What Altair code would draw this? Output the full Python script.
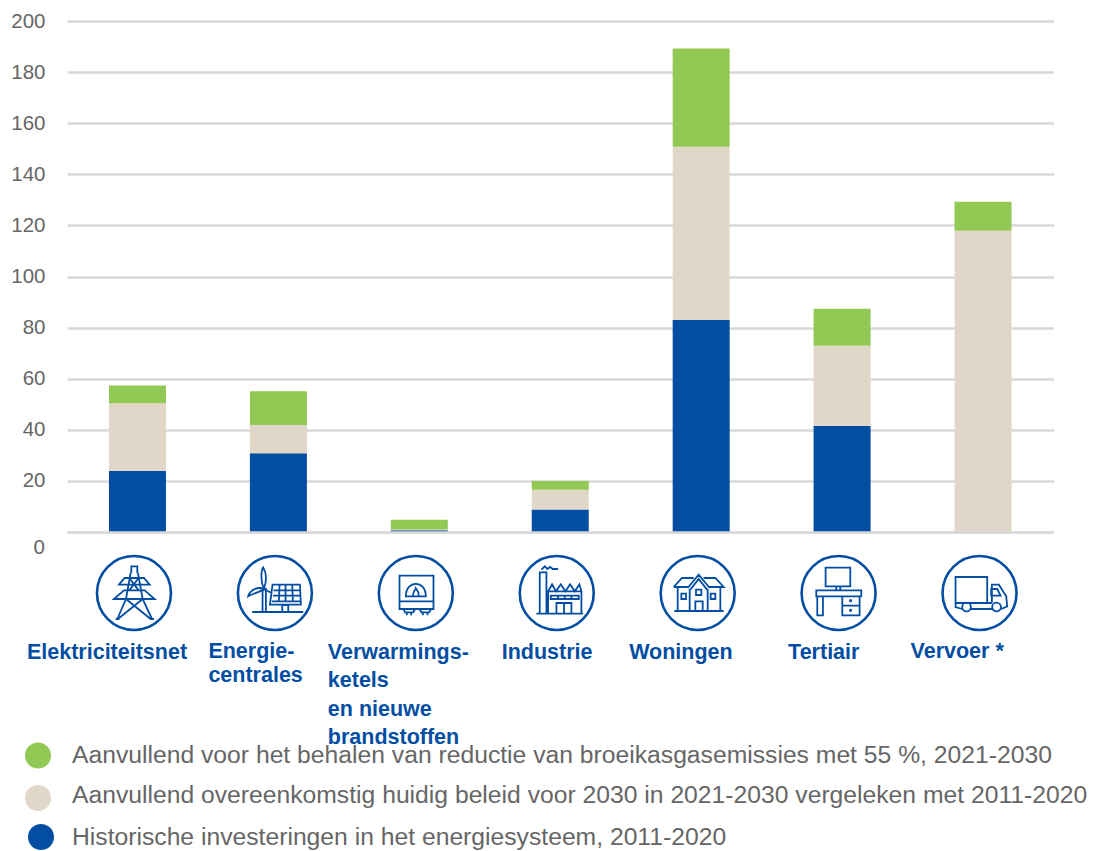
import altair as alt
import pandas as pd

# ---- data ----
categories = ["Elektriciteitsnet", "Energiecentrales", "Verwarmingsketels", "Industrie", "Woningen", "Tertiair", "Vervoer"]
historic = [23.9, 30.8, 0.7, 8.8, 83.0, 41.5, 0.0]
current_policy = [26.5, 11.1, 0.3, 7.7, 67.8, 31.4, 117.9]
extra_55 = [6.9, 13.2, 3.8, 3.5, 38.4, 14.5, 11.4]

series_names = [
    "Historische investeringen in het energiesysteem, 2011-2020",
    "Aanvullend overeenkomstig huidig beleid voor 2030 in 2021-2030 vergeleken met 2011-2020",
    "Aanvullend voor het behalen van reductie van broeikasgasemissies met 55 %, 2021-2030",
]
series_colors = ["#034EA2", "#E1D7C8", "#92C954"]
y_ticks = list(range(0, 201, 20))

label_lines = [
    ["Elektriciteitsnet"],
    ["Energie-", "centrales"],
    ["Verwarmings-", "ketels", "en nieuwe", "brandstoffen"],
    ["Industrie"],
    ["Woningen"],
    ["Tertiair"],
    ["Vervoer *"],
]
label_dx = [-110.5, -70, -91.5, -58.5, -72, -54, -72.5]
label_line_height = [24, 24, 28.6, 24, 24, 24, 24]
label_baseline_y = [653, 652, 652.5, 653, 653, 653, 652]

BLUE = "#034EA2"
GREY = "#666666"
GRID = "#D9D9D9"
FONT = "Liberation Sans"


# ---- icon outlines, in a local unit system relative to each icon's centre ----
def P(*pts, close=False):
    s = "M" + " L".join(f"{x/111:.4f},{y/111:.4f}" for x, y in pts)
    return s + (" Z" if close else "")


def R(x0, y0, x1, y1):
    return P((x0, y0), (x1, y0), (x1, y1), (x0, y1), close=True)


def C(cx, cy, r):
    k = 0.5523 * r
    f = lambda v: f"{v/111:.4f}"
    return (f"M{f(cx+r)},{f(cy)} C{f(cx+r)},{f(cy+k)} {f(cx+k)},{f(cy+r)} {f(cx)},{f(cy+r)} "
            f"C{f(cx-k)},{f(cy+r)} {f(cx-r)},{f(cy+k)} {f(cx-r)},{f(cy)} "
            f"C{f(cx-r)},{f(cy-k)} {f(cx-k)},{f(cy-r)} {f(cx)},{f(cy-r)} "
            f"C{f(cx+k)},{f(cy-r)} {f(cx+r)},{f(cy-k)} {f(cx+r)},{f(cy)} Z")


def B(start, *segs):
    f = lambda p: f"{p[0]/111:.4f},{p[1]/111:.4f}"
    s = "M" + f(start)
    for a, b, c in segs:
        s += f" C{f(a)} {f(b)} {f(c)}"
    return s + " Z"


pylon = " ".join([
    P((-8, -60), (-8, -80), (10, -80), (10, -60)),
    P((-10, -60), (-24, 18), (-50, 78)),
    P((12, -60), (26, 18), (54, 78)),
    P((-45, -25), (-28, -45), (30, -45), (47, -25), close=True),
    P((-60, 18), (-30, -8), (32, -8), (62, 18), close=True),
    P((-14, -45), (14, -8)), P((14, -45), (-14, -8)),
    P((-24, 18), (50, 78)), P((26, 18), (-48, 78)),
    P((-55, 78), (-44, 78)), P((48, 78), (60, 78)),
])
energy = " ".join([
    P((-68, 57), (85, 57)),
    R(-37, -12, -27, 57),
    B((-33, -12), ((-45, -40), (-40, -70), (-35, -77)), ((-25, -60), (-25, -35), (-33, -12))),
    B((-33, -12), ((-50, -20), (-75, -10), (-80, 10)), ((-65, 0), (-45, -2), (-33, -12))),
    P((-33, -12), (-10, 0)),
    P((-7, -25), (75, -25), (78, 35), (-15, 35), close=True),
    P((-9, 25), (77, 25)),
    P((-4, -8), (76, -8)), P((-6, 8), (77, 8)),
    P((14, -25), (12, 25)), P((32, -25), (32, 25)), P((52, -25), (54, 25)),
    R(22, 36, 40, 57),
])
meter = " ".join([
    R(-49, -52, 53, 48),
    P((-49, 25), (53, 25)),
    B((-30, 10), ((-30, -40), (30, -40), (30, 10)), ((10, 10), (-10, 10), (-30, 10))),
    B((-9, 10), ((-9, -5), (0, -12), (0, -14)), ((5, -8), (9, -5), (9, 10))),
    P((-37, 48), (-32, 58), (-8, 58), (-2, 48)),
    P((-27, 58), (-27, 67)), P((-14, 58), (-14, 67)),
    P((11, 48), (17, 58), (40, 58), (46, 48)),
    P((21, 58), (21, 67)), P((35, 58), (35, 67)),
])
factory = " ".join([
    P((-61, 62), (79, 62)),
    R(-51, -62, -31, 62),
    P((-46, -70), (-36, -80), (-28, -72), (-20, -78), (-12, -72), (4, -72)),
    P((-26, 62), (-26, -5), (-14, -26), (-2, -5), (12, -26), (26, -5), (40, -26), (54, -5), (68, -26), (74, -5), (74, 62)),
    P((-26, -5), (74, -5)),
    R(-18, 8, 66, 18),
    P((4, 8), (4, 18)), P((24, 8), (24, 18)), P((44, 8), (44, 18)),
    R(-1, 30, 44, 62), P((22, 30), (22, 62)),
])
house = " ".join([
    P((-70, 54), (78, 54)),
    P((-72, -18), (-47, -45), (-12, -45)),
    P((18, -45), (53, -45), (78, -18), (33, -18)),
    P((-72, -18), (-27, -18)),
    P((-30, -15), (3, -55), (36, -15)),
    P((-22, -10), (3, -42), (28, -10)),
    P((-60, -18), (-60, 54)), P((68, -18), (68, 54)),
    P((-24, -12), (-24, 54)), P((30, -12), (30, 54)),
    R(-49, 2, -35, 18), R(-5, -10, 11, 6), R(39, 2, 53, 18),
    R(-7, 25, 15, 54),
])
desk = " ".join([
    R(-39, -76, 35, -20),
    R(-7, -20, 5, -8),
    R(-67, -8, 68, 10),
    R(-64, 10, -47, 67),
    R(11, 10, 63, 67),
    P((11, 38), (63, 38)),
    C(36, 23, 2), C(36, 52, 2),
])
truck = " ".join([
    R(-72, -48, 23, 30),
    C(-39, 42, 13), C(51, 42, 13),
    P((-72, 30), (-72, 42), (-52, 48)),
    P((-26, 48), (38, 48)),
    P((37, 30), (37, -25), (58, -25), (80, 10), (83, 40), (65, 48)),
    P((35, -12), (53, -12), (63, 8), (35, 8), close=True),
    P((23, 30), (37, 30)),
])
icon_paths = [pylon, energy, meter, factory, house, desk, truck]

# ---- tables ----
rows = []
for name_i, vals in enumerate([historic, current_policy, extra_55]):
    for c, v in zip(categories, vals):
        rows.append({"categorie": c, "serie": series_names[name_i], "volgorde": name_i, "waarde": v})
bars_df = pd.DataFrame(rows)
icons_df = pd.DataFrame({"categorie": categories, "pad": icon_paths})

x_scale = alt.Scale(domain=categories, range=[1, 987.5])
y_scale = alt.Scale(domain=[0, 200], nice=False)

bars = alt.Chart(bars_df).mark_bar(size=57).encode(
    x=alt.X("categorie:N", sort=categories, scale=x_scale, title=None,
            axis=alt.Axis(labels=False, ticks=False, domain=True, domainColor=GRID,
                          domainWidth=2.5, grid=False, zindex=1)),
    y=alt.Y("sum(waarde):Q", stack="zero", scale=y_scale, title=None,
            axis=alt.Axis(values=y_ticks, grid=True, gridColor=GRID, gridWidth=2.5, domain=False,
                          ticks=False, labelPadding=21, labelFont=FONT, labelFontSize=20.5,
                          labelColor=GREY, labelExpr="datum.value === 0 ? '' : datum.label")),
    color=alt.Color("serie:N", scale=alt.Scale(domain=series_names, range=series_colors), legend=None),
    order=alt.Order("volgorde:Q"),
)

zero_label = alt.Chart(pd.DataFrame({"v": [0], "t": ["0"]})).mark_text(
    align="right", baseline="middle", font=FONT, fontSize=20.5, color=GREY, dy=15.5
).encode(x=alt.value(-21), y=alt.Y("v:Q", scale=y_scale), text="t:N")

rings = alt.Chart(icons_df).mark_point(
    shape="circle", size=5476, filled=False, stroke=BLUE, strokeWidth=2.6, opacity=1, xOffset=-3.5
).encode(x=alt.X("categorie:N", sort=categories, scale=x_scale), y=alt.value(572))

glyphs = alt.Chart(icons_df).mark_point(
    size=5476, filled=False, stroke=BLUE, strokeWidth=1.8, opacity=1, xOffset=-3.5
).encode(
    x=alt.X("categorie:N", sort=categories, scale=x_scale),
    y=alt.value(572),
    shape=alt.Shape("pad:N", scale=None, legend=None),
)

label_layers = []
for cat, lines, dx, lh, by in zip(categories, label_lines, label_dx, label_line_height, label_baseline_y):
    label_layers.append(
        alt.Chart(pd.DataFrame({"categorie": [cat]})).mark_text(
            text=lines, align="left", baseline="middle", dx=dx, lineHeight=lh,
            font=FONT, fontSize=21.5, fontWeight="bold", color=BLUE,
        ).encode(x=alt.X("categorie:N", sort=categories, scale=x_scale), y=alt.value(by - 21))
    )

# hand-placed key to mirror the staggered rows of the reference
legend_rows = [
    (series_names[2], series_colors[2], -28, 734.5, 734.5),
    (series_names[1], series_colors[1], -28, 777, 774.5),
    (series_names[0], series_colors[0], -25, 816, 816.5),
]
legend_layers = []
for name, col, px, py, ty in legend_rows:
    one = alt.Chart(pd.DataFrame({"serie": [name]}))
    legend_layers.append(one.mark_point(shape="circle", size=676, filled=True, color=col, opacity=1)
                         .encode(x=alt.value(px), y=alt.value(py)))
    legend_layers.append(one.mark_text(align="left", baseline="middle", font=FONT, fontSize=24.7, color=GREY)
                         .encode(x=alt.value(6), y=alt.value(ty), text="serie:N"))

chart = alt.layer(bars, zero_label, rings, glyphs, *label_layers, *legend_layers).properties(
    width=987, height=511,
    autosize=alt.AutoSizeParams(type="none"),
    padding={"left": 58, "top": 13, "right": 35, "bottom": 322},
).configure_view(stroke=None)

chart.save("out.html", embed_options={"renderer": "svg", "actions": False})
